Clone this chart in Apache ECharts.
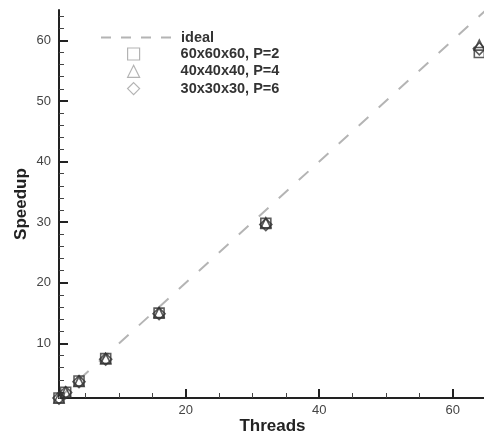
<!DOCTYPE html>
<html>
<head>
<meta charset="utf-8">
<script src="https://cdn.jsdelivr.net/npm/echarts@6/dist/echarts.min.js"></script>
<style>
  html, body { margin: 0; padding: 0; background: #fff; }
  #chart { width: 484px; height: 435px; }
</style>
</head>
<body>
<div id="chart"></div>
<script>
// Thread counts and measured speedups for each grid / polynomial order
var threads = [1, 2, 4, 8, 16, 32, 64];
var speedup60P2 = [1.0, 1.95, 3.8, 7.5, 15.0, 29.8, 58.0];
var speedup40P4 = [1.0, 1.95, 3.75, 7.5, 15.1, 29.9, 59.2];
var speedup30P6 = [1.0, 1.9, 3.7, 7.4, 14.9, 29.6, 58.6];

// Ideal (linear) speedup reference line endpoints
var idealThreads = [1, 70];

// Axis tick values
var xMajorTicks = [20, 40, 60];
var xMinorTicks = [5, 10, 15, 25, 30, 35, 45, 50, 55];
var yMajorTicks = [10, 20, 30, 40, 50, 60];
var yMinorTicks = [2, 4, 6, 8, 12, 14, 16, 18, 22, 24, 26, 28, 32, 34, 36, 38,
                   42, 44, 46, 48, 52, 54, 56, 58, 62, 64];

var seriesNames = ['60x60x60, P=2', '40x40x40, P=4', '30x30x30, P=6'];
var seriesSymbols = ['rect', 'triangle', 'diamond'];
var seriesValues = [speedup60P2, speedup40P4, speedup30P6];

function pairs(xs, ys) {
  return xs.map(function (x, i) { return [x, ys[i]]; });
}

var AX_MIN = 1, AX_MAX = 65;
var font = '"Liberation Sans", Arial, sans-serif';
var hidden = 'rgba(0,0,0,0)';
var legendText = { fontFamily: font, fontWeight: 'bold', fontSize: 14.5, color: '#333' };

var chart = echarts.init(document.getElementById('chart'), null, { renderer: 'canvas' });

var series = [{
  name: 'ideal',
  type: 'line',
  data: pairs(idealThreads, idealThreads),
  showSymbol: false,
  symbol: 'none',
  clip: true,
  lineStyle: { color: '#b4b4b4', width: 2, type: [13, 14] },
  itemStyle: { color: hidden },
  z: 1,
  silent: true
}];

seriesNames.forEach(function (name, i) {
  series.push({
    name: name,
    type: 'scatter',
    data: pairs(threads, seriesValues[i]),
    symbol: seriesSymbols[i],
    symbolSize: seriesSymbols[i] === 'diamond' ? 12 : 10,
    itemStyle: { color: hidden, borderColor: '#333', borderWidth: 1.6 },
    z: 3
  });
});

var option = {
  animation: false,
  backgroundColor: '#fff',
  grid: { left: 59, top: 10, width: 427, height: 388, containLabel: false, outerBoundsMode: 'none' },
  legend: [{
    // dashed reference line entry
    orient: 'vertical',
    left: 100,
    top: 30,
    padding: 0,
    itemWidth: 70,
    itemHeight: 12,
    data: [{
      name: 'ideal',
      itemStyle: { color: hidden, borderColor: hidden, borderWidth: 0 },
      lineStyle: { type: [10, 10], color: '#b4b4b4', width: 2 }
    }],
    selectedMode: false,
    textStyle: Object.assign({ padding: [0, 0, 0, 5] }, legendText)
  }, {
    // marker entries, icons centred under the dashed sample
    orient: 'vertical',
    left: 127,
    top: 46.5,
    padding: 0,
    itemWidth: 12,
    itemHeight: 12,
    itemGap: 2.3,
    data: seriesNames.map(function (n, i) {
      return {
        name: n,
        icon: seriesSymbols[i],
        itemStyle: { color: hidden, borderColor: '#a0a0a0', borderWidth: 1.2 }
      };
    }),
    selectedMode: false,
    textStyle: Object.assign({ padding: [0, 0, 0, 36] }, legendText)
  }],
  xAxis: [{
    type: 'value',
    min: AX_MIN,
    max: AX_MAX,
    position: 'bottom',
    name: 'Threads',
    nameLocation: 'middle',
    nameGap: 20,
    nameMoveOverlap: false,
    nameTextStyle: { fontFamily: font, fontWeight: 'bold', fontSize: 17, color: '#222' },
    axisLine: { show: true, onZero: false, lineStyle: { color: '#222', width: 2 } },
    axisTick: { show: true, inside: true, length: 9, customValues: xMajorTicks, lineStyle: { color: '#222', width: 2 } },
    axisLabel: { show: true, customValues: xMajorTicks, margin: 6, fontFamily: font, fontSize: 13, color: '#444' },
    splitLine: { show: false }
  }, {
    type: 'value',
    min: AX_MIN,
    max: AX_MAX,
    position: 'bottom',
    axisLine: { show: false, onZero: false },
    axisTick: { show: true, inside: true, length: 5, customValues: xMinorTicks, lineStyle: { color: '#444', width: 1 } },
    axisLabel: { show: false },
    splitLine: { show: false }
  }],
  yAxis: [{
    type: 'value',
    min: AX_MIN,
    max: AX_MAX,
    position: 'left',
    name: 'Speedup',
    nameLocation: 'middle',
    nameGap: 29,
    nameMoveOverlap: false,
    nameRotate: 90,
    nameTextStyle: { fontFamily: font, fontWeight: 'bold', fontSize: 17, color: '#222' },
    axisLine: { show: true, onZero: false, lineStyle: { color: '#222', width: 2 } },
    axisTick: { show: true, inside: true, length: 9, customValues: yMajorTicks, lineStyle: { color: '#222', width: 2 } },
    axisLabel: { show: true, customValues: yMajorTicks, margin: 8, fontFamily: font, fontSize: 13, color: '#444' },
    splitLine: { show: false }
  }, {
    type: 'value',
    min: AX_MIN,
    max: AX_MAX,
    position: 'left',
    axisLine: { show: false, onZero: false },
    axisTick: { show: true, inside: true, length: 5, customValues: yMinorTicks, lineStyle: { color: '#444', width: 1 } },
    axisLabel: { show: false },
    splitLine: { show: false }
  }],
  series: series
};

chart.setOption(option);
</script>
</body>
</html>
